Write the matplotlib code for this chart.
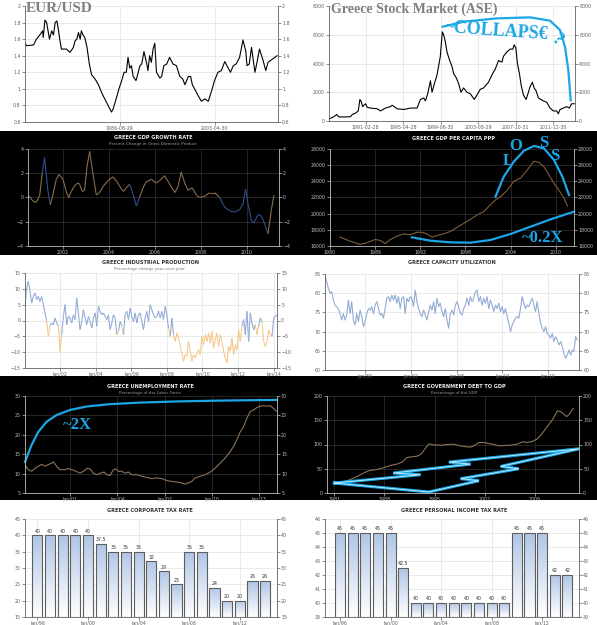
import numpy as np
import matplotlib
matplotlib.use("Agg")
import matplotlib.pyplot as plt
from matplotlib.collections import LineCollection
from matplotlib.colors import LinearSegmentedColormap
from matplotlib.patches import Rectangle

# EUR/USD (decimal years)
eur_years = [1970.0, 1970.3, 1971.5, 1972.0, 1972.6, 1973.1, 1973.2, 1973.5, 1973.8, 1974.3,
             1974.7, 1975.0, 1975.3, 1975.6, 1975.9, 1976.1, 1976.4, 1977.3, 1977.9, 1978.5,
             1978.8, 1979.1, 1979.4, 1979.7, 1979.9, 1980.2, 1980.5, 1980.9, 1981.3, 1981.7,
             1982.3, 1982.9, 1983.5, 1984.0, 1984.6, 1985.2, 1985.5, 1986.1, 1986.5, 1987.0,
             1987.4, 1987.8, 1988.1, 1988.4, 1988.7, 1989.0, 1989.5, 1989.9, 1990.2, 1990.5,
             1990.9, 1991.4, 1991.6, 1991.9, 1992.2, 1992.5, 1992.8, 1993.1, 1993.7, 1994.0,
             1994.4, 1994.9, 1995.4, 1996.0, 1996.6, 1997.2, 1997.7, 1998.1, 1998.7, 1999.1,
             1999.4, 1999.8, 2000.4, 2001.0, 2001.6, 2002.2, 2002.8, 2003.3, 2003.9, 2004.5,
             2005.1, 2005.7, 2006.1, 2006.6, 2007.1, 2007.7, 2008.3, 2008.8, 2009.0, 2009.4,
             2009.8, 2010.1, 2010.4, 2010.7, 2011.2, 2011.8, 2012.3, 2012.7, 2013.3, 2013.9, 2014.3]
eur_vals = [1.55, 1.52, 1.53, 1.6, 1.65, 1.7, 1.62, 1.83, 1.8, 1.6,
            1.7, 1.65, 1.8, 1.82, 1.7, 1.6, 1.48, 1.48, 1.44, 1.5,
            1.58, 1.6, 1.68, 1.6, 1.7, 1.65, 1.62, 1.5, 1.3, 1.17,
            1.12, 1.05, 0.95, 0.88, 0.8, 0.72, 0.76, 0.9, 1.0, 1.1,
            1.2, 1.2, 1.38, 1.25, 1.28, 1.15, 1.1, 1.2, 1.28, 1.3,
            1.45, 1.3, 1.22, 1.4, 1.32, 1.48, 1.55, 1.2, 1.13, 1.15,
            1.28, 1.3, 1.38, 1.3, 1.28, 1.15, 1.12, 1.05, 1.15, 1.15,
            1.05, 1.0, 0.92, 0.85, 0.88, 0.85, 0.98, 1.1, 1.2, 1.22,
            1.33, 1.25, 1.2, 1.28, 1.3, 1.38, 1.59, 1.45, 1.28, 1.3,
            1.5, 1.35, 1.2, 1.3, 1.48, 1.35, 1.22, 1.32, 1.35, 1.38, 1.4]

# Athens stock exchange
ase_years = [1987.17, 1987.65, 1987.95, 1988.21, 1988.76, 1989.50, 1989.68, 1990.05, 1990.35, 1990.53,
             1990.68, 1990.83, 1991.16, 1991.34, 1991.71, 1992.45, 1992.82, 1993.37, 1993.93, 1994.11,
             1994.67, 1995.40, 1996.14, 1996.88, 1997.25, 1997.62, 1997.80, 1998.06, 1998.36, 1998.54,
             1998.80, 1999.09, 1999.46, 1999.68, 1999.83, 2000.02, 2000.20, 2000.50, 2000.75, 2000.94,
             2001.23, 2001.49, 2001.75, 2002.05, 2002.41, 2002.78, 2003.23, 2003.52, 2003.89, 2004.26,
             2004.81, 2005.18, 2005.55, 2005.92, 2006.29, 2006.47, 2006.84, 2007.21, 2007.51, 2007.65,
             2007.84, 2008.02, 2008.24, 2008.43, 2008.69, 2008.98, 2009.24, 2009.43, 2009.68, 2009.87,
             2010.09, 2010.35, 2010.61, 2010.90, 2011.27, 2011.64, 2012.01, 2012.38, 2012.56, 2012.75,
             2013.12, 2013.48, 2013.78, 2014.04, 2014.33]
ase_vals = [160, 300, 450, 280, 280, 300, 450, 550, 700, 1500,
            1350, 1000, 1200, 950, 900, 850, 700, 900, 1000, 1100,
            850, 800, 900, 900, 1500, 1600, 1400, 1900, 2800, 2000,
            2600, 3200, 4500, 6200, 6000, 5500, 4800, 4200, 3800, 3300,
            3000, 2600, 2000, 2300, 2000, 1900, 1500, 1800, 2200, 2300,
            2700, 3200, 3600, 4200, 4100, 4500, 4800, 5000, 5000, 5300,
            5100, 4000, 3300, 2500, 1800, 1500, 2000, 2400, 2700, 2300,
            2100, 1600, 1500, 1400, 1300, 900, 700, 700, 500, 800,
            900, 1000, 900, 1200, 1200]
collapse_years = [1999.72, 2002.05, 2005.74, 2009.43, 2011.64, 2012.75, 2013.30, 2013.67, 2013.93]
collapse_vals = [6558, 6907, 7140, 7209, 6977, 6326, 5163, 3535, 1442]

# GDP growth rate
gdp_years = [2000.48, 2000.70, 2000.84, 2000.99, 2001.10, 2001.20, 2001.35, 2001.45, 2001.57, 2001.71,
             2001.83, 2002.00, 2002.14, 2002.25, 2002.36, 2002.51, 2002.65, 2002.72, 2002.84, 2002.94,
             2003.04, 2003.16, 2003.30, 2003.45, 2003.59, 2003.74, 2003.96, 2004.17, 2004.35, 2004.54,
             2004.64, 2004.75, 2004.90, 2005.04, 2005.19, 2005.33, 2005.48, 2005.62, 2005.84, 2006.06,
             2006.20, 2006.42, 2006.64, 2006.86, 2007.00, 2007.14, 2007.29, 2007.43, 2007.62, 2007.80,
             2007.94, 2008.16, 2008.38, 2008.59, 2008.81, 2009.03, 2009.25, 2009.46, 2009.68, 2009.83,
             2009.94, 2010.04, 2010.19, 2010.30, 2010.48, 2010.62, 2010.77, 2010.91, 2011.06, 2011.17]
gdp_vals = [0.2, -0.3, -0.4, 0.2, 2.0, 3.3, 0.5, -0.6, 0.3, 1.5,
            1.9, 1.5, 0.5, 0.0, 0.5, 1.0, 1.2, 1.1, 0.5, 0.6,
            2.5, 3.8, 2.0, 0.2, 0.4, 0.9, 1.4, 1.7, 1.3, 0.7,
            0.5, 0.8, 1.1, 0.3, -0.7, 0.0, 0.8, 1.3, 1.5, 1.2,
            1.4, 1.8, 1.1, 0.4, 0.9, 2.1, 1.2, 0.6, 0.8, 0.2,
            0.0, 0.1, 0.4, 0.4, 0.0, -0.8, -1.1, -1.2, -1.0, -0.5,
            0.7, -0.5, -1.9, -2.1, -1.4, -1.5, -2.2, -3.0, -1.0, 0.2]
gdp_blue_spans = [(2001.05, 2001.5), (2004.95, 2005.3), (2008.8, 2010.85)]

# GDP per capita PPP
gdppc_years = [1981.33, 1982.67, 1984.0, 1984.89, 1986.0, 1986.67, 1987.33, 1988.0, 1988.89, 1989.78,
               1990.67, 1991.56, 1992.22, 1992.89, 1993.56, 1994.22, 1995.11, 1996.0, 1996.89, 1997.78,
               1998.67, 1999.56, 2000.44, 2001.33, 2002.0, 2002.67, 2003.56, 2004.44, 2005.33, 2006.22,
               2007.11, 2007.78, 2008.44, 2009.11, 2009.78, 2010.44, 2011.11, 2011.56]
gdppc_vals = [17100, 16600, 16200, 16400, 16800, 16700, 16300, 16800, 17200, 17500,
              17400, 17700, 17700, 17500, 17100, 17300, 17500, 17800, 18300, 18800,
              19300, 19850, 20250, 21100, 21700, 22100, 22900, 24000, 24400, 25400,
              26500, 26350, 25800, 24800, 23750, 22900, 21900, 20950]
loss_years = [2002.0, 2003.1, 2004.44, 2005.78, 2007.11, 2008.44, 2009.78, 2010.89, 2011.78]
loss_vals = [22103, 24577, 26433, 27794, 28371, 28082, 26639, 24577, 22309]
low_years = [1990.89, 1993.33, 1996.0, 1998.67, 2001.33, 2004.0, 2006.67, 2009.33, 2012.44]
low_vals = [17072, 16660, 16454, 16412, 16742, 17485, 18392, 19299, 20247]

# industrial production, % y/y (roughly monthly, Jan 2000 .. early 2014)
ind_vals = [5, 10.3, 12.4, 9.2, 5.5, 7.6, 8.7, 6.6, 7.6, 6,
            7.6, 5, 2.4, -0.3, -5, -1.8, -0.8, -1.3, 0.8, -0.8,
            -1.8, -9.7, -4.5, 1.3, 5, -1.3, 1.3, 0.8, -0.8, 1.8,
            0.3, 7.1, 2.4, -2.9, -0.3, 3.4, 0.8, -1.3, 1.3, -0.3,
            -2.4, 0.8, 2.4, -1.8, 4.5, 2.9, 1.8, 2.4, 1.3, 0.3,
            1.8, -2.9, -0.8, 1.8, 0.8, -4.5, -3.4, -0.3, -1.8, -4.5,
            1.8, 2.9, 0.3, 3.9, 1.3, -0.3, 2.4, -0.8, 1.8, 2.4,
            -0.3, -2.9, 0.8, 2.9, -0.3, 5, 3.4, 1.8, 0.8, 1.3,
            2.9, 0.8, 2.9, 0.3, 4.5, 1.8, -2.4, -5, 0.8, -4.5,
            -6.6, -3.9, -5.5, -8.2, -10.3, -12.9, -10.8, -11.3, -6.6, -9.7,
            -12.9, -10.8, -11.8, -10.3, -9.2, -10.8, -5, -7.6, -4.5, -6.6,
            -3.9, -7.1, -3.4, -8.7, -6.1, -3.9, -8.2, -4.5, -6.6, -9.7,
            -11.8, -13.4, -8.2, -9.7, -5.5, -10.8, -7.6, -9.2, -2.9, -6.6,
            -1.8, 0.3, -4.5, 2.9, -6.6, 2.4, -0.8, -2.9, -1.3, -4.5,
            -1.8, 0.8, -0.3, -6.6, -8.2, -6.6, -2.9, -4.5, -5, 0.8,
            1.3, 1.8]
ind_start, ind_end = 2000.03, 2014.19

# capacity utilization (1980s .. 2013)
cap_vals = [84.7, 83, 81.3, 80, 80.4, 78.2, 76.9, 76.5, 76, 74.7,
            73, 74.7, 73, 74.3, 78.2, 74.7, 77.8, 73, 71.7, 74.7,
            72.6, 75.6, 73.9, 71.3, 72.6, 74.7, 76, 75.6, 76.5, 74.7,
            76.9, 77.8, 76, 74.3, 74.7, 73.5, 76, 78.7, 79.1, 77.8,
            79.5, 78.2, 79.5, 77.4, 79.1, 76, 78.7, 79.1, 74.7, 78.7,
            77.8, 79.1, 78.7, 76.5, 80.8, 77.8, 76, 74.7, 73.9, 75.6,
            74.3, 73, 75.2, 76.9, 75.6, 77.8, 74.7, 78.7, 76.5, 77.4,
            75.2, 73.9, 76, 73, 70.9, 74.7, 75.6, 74.3, 76.9, 77.8,
            76.5, 74.7, 74.3, 76, 76.9, 78.7, 76.9, 79.1, 77.8, 78.7,
            80.4, 80.8, 77.8, 79.1, 76.9, 78.7, 77.4, 79.1, 76, 78.2,
            76.9, 75.2, 76.9, 76, 77.4, 75.2, 76.5, 74.7, 76, 73.9,
            72.2, 70, 71.7, 72.6, 73.5, 73.9, 73.5, 76, 79.1, 77.4,
            76, 76.9, 76.5, 77.8, 78.7, 76.9, 75.2, 77.8, 74.7, 72.2,
            70.9, 70, 71.3, 69.5, 69.1, 68.3, 69.5, 67.4, 68.7, 67.8,
            66.5, 67.4, 66.1, 64.3, 63, 63.9, 65.2, 63.9, 65.2, 64.8,
            68.7, 67.8]
cap_start, cap_end = 1980.74, 2013.85

# unemployment rate
unemp_years = [1998.14, 1998.35, 1998.56, 1998.78, 1998.99, 1999.20, 1999.41, 1999.62, 1999.83, 1999.94,
               2000.15, 2000.36, 2000.68, 2000.89, 2001.11, 2001.32, 2001.64, 2001.85, 2002.10, 2002.27,
               2002.48, 2002.69, 2002.91, 2003.16, 2003.33, 2003.54, 2003.75, 2003.92, 2004.07, 2004.28,
               2004.50, 2004.71, 2004.92, 2005.24, 2005.56, 2005.87, 2006.19, 2006.51, 2006.83, 2007.14,
               2007.46, 2007.78, 2008.10, 2008.31, 2008.52, 2008.73, 2008.94, 2009.26, 2009.58, 2009.90,
               2010.22, 2010.53, 2010.85, 2011.17, 2011.38, 2011.59, 2011.81, 2012.02, 2012.23, 2012.44,
               2012.65, 2012.86, 2013.07, 2013.29, 2013.50, 2013.71, 2013.92, 2014.09]
unemp_vals = [12.3, 11, 10.6, 11.4, 11.9, 12.4, 11.9, 12.3, 12.7, 13,
              11.9, 11, 11, 11.3, 11, 10.7, 10.1, 10.6, 11.4, 11.2,
              10.1, 9.7, 10.1, 10.4, 9.7, 9.5, 11, 11.2, 10.6, 10.6,
              10.1, 10.4, 9.7, 9.7, 9.3, 9, 8.7, 8.9, 8.7, 8.2,
              8, 7.8, 7.6, 7.3, 7.6, 8, 8.9, 9.3, 9.7, 10.4,
              11.4, 12.7, 14, 15.7, 17, 18.7, 20.8, 22.1, 24.3, 26,
              26.4, 27, 27.4, 27.5, 27.4, 27.5, 26.8, 26.1]
twox_years = [1998.14, 1998.56, 1998.99, 1999.52, 2000.15, 2001.0, 2002.06, 2003.54, 2005.45, 2007.78, 2010.32, 2014.14]
twox_vals = [13.0, 17.4, 20.8, 23.4, 25.1, 26.4, 27.3, 27.9, 28.3, 28.6, 28.8, 29.0]

# government debt to GDP
debt_years = [1981.0, 1981.84, 1982.77, 1983.71, 1984.64, 1985.57, 1986.04, 1986.74, 1987.43, 1988.0,
              1988.84, 1989.77, 1990.47, 1991.17, 1991.87, 1992.57, 1993.13, 1993.74, 1994.21, 1994.91,
              1995.84, 1996.77, 1997.71, 1998.41, 1999.11, 2000.04, 2000.74, 2001.21, 2001.91, 2002.61,
              2003.31, 2004.01, 2004.70, 2005.64, 2006.57, 2007.27, 2007.97, 2008.67, 2009.37, 2010.07,
              2010.77, 2011.47, 2012.17, 2012.64, 2013.10, 2013.48, 2013.94, 2014.41]
debt_vals = [19.2, 22.6, 25.3, 30.8, 37.7, 44.5, 46.6, 47.9, 50, 52.7,
             56.8, 59.6, 63.7, 73.3, 74.7, 76, 80.1, 92.5, 101.4, 99.3,
             98.6, 100, 100.7, 97.9, 95.9, 94.5, 99.3, 104.1, 104.1, 102,
             100, 97.3, 97.9, 98.6, 100.7, 105.5, 104.1, 106.2, 111.6, 123.3,
             137, 150.7, 169.2, 167.8, 162.3, 157.5, 164.4, 174.7]
bolt_years = [1981.0, 1993.04, 1989.21, 2000.04, 1997.01, 2015.2, 2004.24, 2006.80, 1998.64, 2001.21, 1994.21, 1981.0]
bolt_vals = [20.5, 37.7, 41.1, 59.6, 63.7, 91.1, 54.8, 50, 29.5, 25.3, 2.1, 20.5]

# tax rates, one bar per year 1996..2014
corp_tax = [40, 40, 40, 40, 40, 37.5, 35, 35, 35, 32, 29, 25, 35, 35, 24, 20, 20, 26, 26]
pers_tax = [45, 45, 45, 45, 45, 42.5, 40, 40, 40, 40, 40, 40, 40, 40, 45, 45, 45, 42, 42]
tax_ticks = [0, 4, 8, 12, 16]
tax_ticklabels = ["Jan/96", "Jan/00", "Jan/04", "Jan/08", "Jan/12"]

W, H = 597, 625
fig = plt.figure(figsize=(W / 100, H / 100), dpi=100)
fig.patch.set_facecolor("white")
for top, bot in [(131, 255), (376, 500)]:
    fig.patches.append(Rectangle((0, 1 - bot / H), 1, (bot - top) / H, transform=fig.transFigure,
                                 facecolor="black", edgecolor="none", zorder=-10))

SERIF = "Liberation Serif"
ANNO = "#1ba6e6"


def ptext(x, y, s, **kw):
    return fig.text(x / W, 1 - y / H, s, **kw)


def panel(l, t, r, b, dark=False):
    ax = fig.add_axes([l / W, 1 - b / H, (r - l) / W, (b - t) / H])
    ax.set_facecolor("none")
    fg = "#bdbdbd" if dark else "#606060"
    ax.spines["top"].set_visible(False)
    for s in ["left", "right", "bottom"]:
        ax.spines[s].set_color(fg)
        ax.spines[s].set_linewidth(0.6)
    ax.tick_params(axis="both", colors=fg, labelsize=3.4, length=2, width=0.5, pad=1)
    ax.tick_params(axis="y", left=True, right=True, labelleft=True, labelright=True)
    ax.grid(True, color="#333333" if dark else "#e2e2e2", lw=0.5)
    ax.set_axisbelow(True)
    return ax


def title(x, y, s, sub=None, dark=False):
    ptext(x, y, s, ha="center", va="center", fontsize=3.6, fontweight="bold",
          color="#eeeeee" if dark else "#333333")
    if sub:
        ptext(x, y + 7, sub, ha="center", va="center", fontsize=3.0,
              color="#9a9a9a" if dark else "#777777")


def seg_line(ax, x, y, colors, lw=0.8):
    pts = np.column_stack([x, y])
    segs = np.stack([pts[:-1], pts[1:]], axis=1)
    ax.add_collection(LineCollection(segs, colors=colors, linewidths=lw))


def tax_bars(ax, vals, ymin, lab_off):
    cmap = LinearSegmentedColormap.from_list("bar", ["#ffffff", "#b0c6e6"])
    grad = np.linspace(0, 1, 100).reshape(-1, 1)
    for i, v in enumerate(vals):
        rect = Rectangle((i - 0.4, ymin), 0.8, v - ymin, facecolor="none",
                         edgecolor="#5e5e5e", lw=0.8, zorder=3)
        ax.add_patch(rect)
        im = ax.imshow(grad, extent=[i - 0.4, i + 0.4, ymin, v], origin="lower",
                       cmap=cmap, aspect="auto", zorder=2)
        im.set_clip_path(rect)
        ax.text(i, v + lab_off, f"{v:g}", ha="center", va="bottom", fontsize=3.4, color="#333333")


# ---- EUR/USD ----
ax = panel(25, 6, 278, 122)
ax.plot(eur_years, eur_vals, color="black", lw=0.8)
ax.set_xlim(1970.0, 2014.45)
ax.set_ylim(0.6, 2.0)
ax.set_xticks([1986.66, 2003.33], ["1986-08-29", "2003-04-30"])
eur_yt = [0.6, 0.8, 1, 1.2, 1.4, 1.6, 1.8, 2]
ax.set_yticks(eur_yt, [f"{v:g}" for v in eur_yt])
ptext(26, 9, "EUR/USD", fontsize=11, family=SERIF, fontweight="bold", color="#808080", va="center")

# ---- Greece stock market ----
ax = panel(329, 6, 575, 121)
ax.plot(ase_years, ase_vals, color="black", lw=0.8)
ax.plot(collapse_years, collapse_vals, color=ANNO, lw=1.6, clip_on=False)
ax.set_xlim(1987.1, 2014.41)
ax.set_ylim(0, 8000)
ax.set_xticks([1991.16, 1995.32, 1999.49, 2003.66, 2007.83, 2011.99],
              ["1991-02-28", "1995-04-28", "1999-06-30", "2003-08-29", "2007-10-31", "2011-12-30"])
ax.set_yticks([0, 2000, 4000, 6000, 8000])
ptext(331, 9, "Greece Stock Market (ASE)", fontsize=10, family=SERIF, fontweight="bold",
      color="#808080", va="center")
ptext(497, 31, "~COLLAPS€", fontsize=13, family=SERIF, fontweight="bold", color=ANNO,
      ha="center", va="center", rotation=-4)
ptext(557, 40, "?", fontsize=13, family=SERIF, fontweight="bold", color=ANNO,
      ha="center", va="center", rotation=-40)

# ---- GDP growth rate ----
ax = panel(28, 149, 279, 246, dark=True)
gy = np.array(gdp_years)
mid = (gy[:-1] + gy[1:]) / 2
cols = ["#2f4f8f" if any(a <= m <= b for a, b in gdp_blue_spans) else "#8a6d4c" for m in mid]
seg_line(ax, gdp_years, gdp_vals, cols)
ax.set_xlim(2000.48, 2011.39)
ax.set_ylim(-4, 4)
ax.set_xticks([2002, 2004, 2006, 2008, 2010])
ax.set_yticks([-4, -2, 0, 2, 4])
title(153, 137, "GREECE GDP GROWTH RATE", "Percent Change in Gross Domestic Product", dark=True)

# ---- GDP per capita PPP ----
ax = panel(330, 149, 574, 246, dark=True)
ax.plot(gdppc_years, gdppc_vals, color="#7d5c3c", lw=0.8)
ax.plot(loss_years, loss_vals, color=ANNO, lw=1.6, clip_on=False)
ax.plot(low_years, low_vals, color=ANNO, lw=1.6, clip_on=False)
ax.set_xlim(1980, 2012.44)
ax.set_ylim(16000, 28000)
ax.set_xticks([1980, 1986, 1992, 1998, 2004, 2010])
ax.set_yticks(range(16000, 28001, 2000))
title(454, 138, "GREECE GDP PER CAPITA PPP", dark=True)
for s, x, y in [("L", 508, 161), ("O", 516, 146), ("S", 544, 143), ("S", 555, 156)]:
    ptext(x, y, s, fontsize=12, family=SERIF, fontweight="bold", color=ANNO, ha="center", va="center")
ptext(543, 238, "~0.2X", fontsize=12, family=SERIF, fontweight="bold", color=ANNO, ha="center", va="center")

# ---- industrial production ----
ax = panel(25, 273, 277, 368)
ix = np.linspace(ind_start, ind_end, len(ind_vals))
iv = np.array(ind_vals)
cols = ["#93acd6" if (a + b) / 2 >= -2.5 else "#f6c98a" for a, b in zip(iv[:-1], iv[1:])]
seg_line(ax, ix, iv, cols)
ax.set_xlim(ind_start, ind_end)
ax.set_ylim(-15, 15)
ax.set_xticks([2002, 2004, 2006, 2008, 2010, 2012, 2014],
              ["Jan/02", "Jan/04", "Jan/06", "Jan/08", "Jan/10", "Jan/12", "Jan/14"])
ax.set_yticks([-15, -10, -5, 0, 5, 10, 15])
title(150, 262, "GREECE INDUSTRIAL PRODUCTION", "Percentage change year-over-year")

# ---- capacity utilization ----
ax = panel(325, 274, 579, 370)
cx = np.linspace(cap_start, cap_end, len(cap_vals))
ax.plot(cx, cap_vals, color="#93acd6", lw=0.8)
ax.set_xlim(1980.74, 2014.07)
ax.set_ylim(60, 85)
ax.set_xticks([1986, 1992, 1998, 2004, 2010], ["Jan/86", "Jan/92", "Jan/98", "Jan/04", "Jan/10"])
ax.set_yticks([60, 65, 70, 75, 80, 85])
title(452, 262, "GREECE CAPACITY UTILIZATION")

# ---- unemployment ----
ax = panel(25, 396, 277, 493, dark=True)
ax.plot(unemp_years, unemp_vals, color="#8c7358", lw=0.8)
ax.plot(twox_years, twox_vals, color=ANNO, lw=1.6, clip_on=False)
ax.set_xlim(1998.14, 2014.14)
ax.set_ylim(5, 30)
ax.set_xticks([2001, 2004, 2007, 2010, 2013], ["Jan/01", "Jan/04", "Jan/07", "Jan/10", "Jan/13"])
ax.set_yticks([5, 10, 15, 20, 25, 30])
title(150, 386, "GREECE UNEMPLOYMENT RATE", "Percentage of the Labor Force", dark=True)
ptext(77, 425, "~2X", fontsize=12, family=SERIF, fontweight="bold", color=ANNO, ha="center", va="center")

# ---- debt to GDP ----
ax = panel(327, 396, 579, 493, dark=True)
ax.plot(debt_years, debt_vals, color="#8c7358", lw=0.8)
ax.plot(bolt_years, bolt_vals, color=ANNO, lw=2.2, clip_on=False, solid_joinstyle="miter")
ax.plot(bolt_years, bolt_vals, color="#c8eeff", lw=0.6, clip_on=False, solid_joinstyle="miter")
ax.set_xlim(1979.97, 2015.2)
ax.set_ylim(0, 200)
ax.set_xticks([1981, 1988, 1995, 2002, 2009])
ax.set_yticks([0, 50, 100, 150, 200])
title(454, 386, "GREECE GOVERNMENT DEBT TO GDP", "Percentage of the GDP", dark=True)

# ---- corporate tax ----
ax = panel(25, 519, 277, 617)
tax_bars(ax, corp_tax, 15, 0.5)
ax.set_xlim(-0.98, 18.94)
ax.set_ylim(15, 45)
ax.set_xticks(tax_ticks, tax_ticklabels)
ax.set_yticks([15, 20, 25, 30, 35, 40, 45])
title(150, 510, "GREECE CORPORATE TAX RATE")

# ---- personal income tax ----
ax = panel(325, 519, 579, 617)
tax_bars(ax, pers_tax, 39, 0.12)
ax.set_xlim(-1.19, 18.92)
ax.set_ylim(39, 46)
ax.set_xticks(tax_ticks, tax_ticklabels)
ax.set_yticks([39, 40, 41, 42, 43, 44, 45, 46])
title(454, 510, "GREECE PERSONAL INCOME TAX RATE")

fig.savefig("out.png", dpi=100)
